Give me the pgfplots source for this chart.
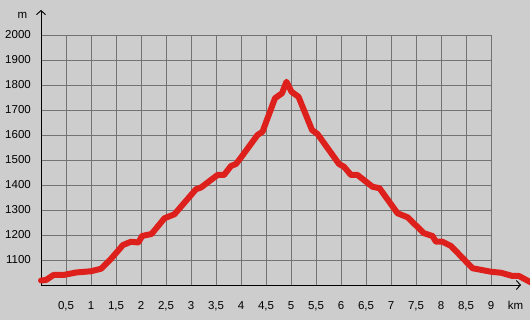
\documentclass[border=0pt]{standalone}
\usepackage{pgfplots}
\pgfplotsset{compat=1.18}
\usepackage{fontspec}
\setmainfont{Liberation Sans}
\usetikzlibrary{arrows.meta}
\definecolor{bg}{RGB}{205,205,205}
\definecolor{gridc}{RGB}{115,115,115}
\definecolor{prof}{RGB}{222,32,28}
\begin{document}
\begin{tikzpicture}[x=1pt,y=1pt]
\useasboundingbox (0,0) rectangle (530,320);
\clip (0,0) rectangle (530,320);
\fill[bg] (0,0) rectangle (530,320);
\begin{axis}[
  at={(41pt,35pt)}, anchor=south west,
  scale only axis, width=489pt, height=250pt,
  xmin=0, xmax=9.78, ymin=1000, ymax=2000,
  clip=false,
  axis line style={draw=none},
  tick style={draw=none},
  xtick={0.5,1,1.5,2,2.5,3,3.5,4,4.5,5,5.5,6,6.5,7,7.5,8,8.5,9},
  xticklabels={{0,5},1,{1,5},2,{2,5},3,{3,5},4,{4,5},5,{5,5},6,{6,5},7,{7,5},8,{8,5},9},
  ytick={1100,1200,1300,1400,1500,1600,1700,1800,1900,2000},
  yticklabels={1100,1200,1300,1400,1500,1600,1700,1800,1900,2000},
  xticklabel style={anchor=north, inner sep=0pt, yshift=-16pt, font=\fontsize{11.5}{13}\selectfont},
  yticklabel style={anchor=east, inner sep=0pt, xshift=-10pt, font=\fontsize{11.5}{13}\selectfont},
]
\pgfplotsinvokeforeach{0.5,1,1.5,2,2.5,3,3.5,4,4.5,5,5.5,6,6.5,7,7.5,8,8.5,9}{
  \draw[gridc, line width=0.6pt] (axis cs:#1,1000) -- (axis cs:#1,2000);
}
\pgfplotsinvokeforeach{1100,1200,1300,1400,1500,1600,1700,1800,1900,2000}{
  \draw[gridc, line width=0.6pt] (axis cs:0,#1) -- (axis cs:9,#1);
}
\draw[black, line width=0.9pt, -{Straight Barb[length=4pt,width=9pt]}] (axis cs:0,1000) -- (axis cs:0,2100);
\draw[black, line width=0.9pt, -{Straight Barb[length=4pt,width=9pt]}] (axis cs:0,1000) -- (axis cs:9.6,1000);
\addplot[prof, line width=6pt, line join=round, line cap=round] coordinates {
(0,1018) (0.1,1020) (0.25,1040) (0.45,1040) (0.7,1050) (1.0,1055) (1.2,1065)
(1.38,1100) (1.64,1160) (1.8,1173) (1.95,1170) (2.02,1196) (2.21,1204)
(2.47,1267) (2.67,1283) (3.1,1383) (3.2,1390) (3.53,1440) (3.66,1440)
(3.8,1476) (3.9,1484) (4.0,1510) (4.33,1600) (4.43,1613) (4.68,1747)
(4.82,1767) (4.91,1813) (5.01,1773) (5.15,1753) (5.42,1620) (5.53,1604)
(5.96,1484) (6.06,1473) (6.2,1440) (6.33,1440) (6.63,1393) (6.77,1387)
(7.13,1287) (7.33,1271) (7.66,1207) (7.83,1196) (7.9,1173) (8.03,1173)
(8.2,1156) (8.63,1067) (9.0,1053) (9.2,1049) (9.43,1036) (9.56,1036) (9.8,1010)
};
\node[anchor=north, inner sep=0pt, font=\fontsize{11.5}{13}\selectfont] at (axis cs:9.49,1000) [yshift=-16pt] {km};
\node[inner sep=0pt, font=\fontsize{11.5}{13}\selectfont] at (axis cs:-0.37,2080) {m};
\end{axis}
\end{tikzpicture}
\end{document}
